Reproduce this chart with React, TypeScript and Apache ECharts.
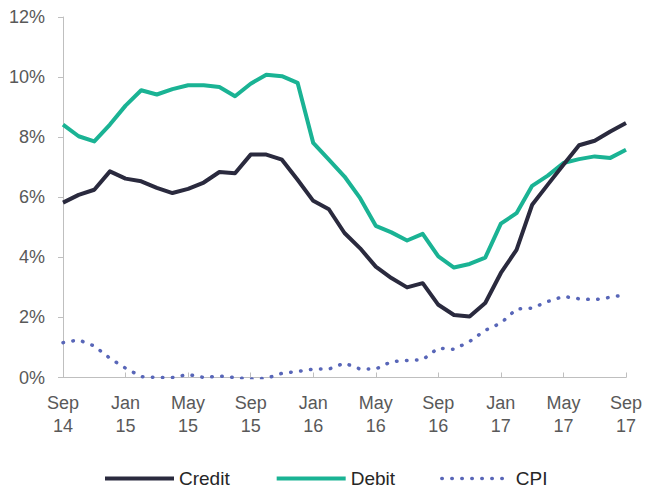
import React, { useEffect, useRef } from "react";
import * as echarts from "echarts";

const months = [
  "Sep\n14", "Oct 14", "Nov 14", "Dec 14", "Jan\n15", "Feb 15", "Mar 15", "Apr 15",
  "May\n15", "Jun 15", "Jul 15", "Aug 15", "Sep\n15", "Oct 15", "Nov 15", "Dec 15",
  "Jan\n16", "Feb 16", "Mar 16", "Apr 16", "May\n16", "Jun 16", "Jul 16", "Aug 16",
  "Sep\n16", "Oct 16", "Nov 16", "Dec 16", "Jan\n17", "Feb 17", "Mar 17", "Apr 17",
  "May\n17", "Jun 17", "Jul 17", "Aug 17", "Sep\n17",
];

const credit = [
  5.82, 6.08, 6.25, 6.86, 6.62, 6.53, 6.31, 6.14, 6.28, 6.49, 6.84, 6.8,
  7.42, 7.42, 7.25, 6.58, 5.88, 5.6, 4.81, 4.3, 3.69, 3.31, 3.0, 3.14,
  2.42, 2.08, 2.03, 2.48, 3.48, 4.25, 5.75, 6.42, 7.08, 7.73, 7.88, 8.19, 8.47,
];

const debit = [
  8.42, 8.03, 7.86, 8.42, 9.05, 9.56, 9.42, 9.6, 9.73, 9.73, 9.67, 9.36,
  9.78, 10.08, 10.03, 9.81, 7.81, 7.25, 6.69, 5.97, 5.05, 4.83, 4.56, 4.78,
  4.03, 3.66, 3.78, 3.99, 5.12, 5.47, 6.38, 6.72, 7.14, 7.27, 7.36, 7.31, 7.58,
];

const cpi = [
  1.16, 1.25, 1.05, 0.64, 0.31, 0.03, 0.0, 0.0, 0.1, 0.0, 0.05, 0.0,
  -0.05, -0.03, 0.14, 0.2, 0.28, 0.28, 0.48, 0.28, 0.28, 0.53, 0.57, 0.59,
  0.98, 0.94, 1.2, 1.57, 1.81, 2.28, 2.31, 2.53, 2.7, 2.62, 2.59, 2.67, 2.76,
];

const yTicks = [0, 2, 4, 6, 8, 10, 12];

const FONT = "'Liberation Sans', Arial, sans-serif";
const TEXT = "#595959";
const AXIS = "#bfbfbf";

export default function App() {
  const ref = useRef<HTMLDivElement>(null);
  useEffect(() => {
    if (!ref.current) return;
    const chart = echarts.init(ref.current, undefined, { renderer: "svg" });
    chart.setOption({
      animation: false,
      backgroundColor: "#ffffff",
      textStyle: { fontFamily: FONT },
      grid: { left: 63, right: 19, top: 17, bottom: 111.5, containLabel: false },
      legend: {
        left: 98,
        top: 464,
        itemWidth: 69,
        itemHeight: 14,
        itemGap: 45,
        itemStyle: { opacity: 0 },
        textStyle: { fontSize: 19, color: "#262626", fontFamily: FONT },
        data: [
          { name: "Credit", lineStyle: { width: 4 } },
          { name: "Debit", lineStyle: { width: 4 } },
          { name: "CPI", lineStyle: { width: 3.5 } },
        ],
      },
      xAxis: {
        type: "category",
        data: months,
        boundaryGap: false,
        axisLine: { show: true, lineStyle: { color: AXIS, width: 1 } },
        axisTick: { show: true, inside: true, length: 5, interval: 3, lineStyle: { color: AXIS } },
        axisLabel: {
          interval: 3,
          margin: 14,
          fontSize: 18,
          lineHeight: 23,
          color: TEXT,
          fontFamily: FONT,
          formatter: (v: string) => v,
        },
        splitLine: { show: false },
      },
      yAxis: {
        type: "value",
        min: yTicks[0],
        max: yTicks[yTicks.length - 1],
        interval: 2,
        axisLine: { show: true, lineStyle: { color: AXIS, width: 1 } },
        axisTick: { show: true, length: 5, lineStyle: { color: AXIS } },
        axisLabel: {
          margin: 18,
          fontSize: 18,
          color: TEXT,
          fontFamily: FONT,
          formatter: (v: number) => v + "%",
        },
        splitLine: { show: false },
      },
      series: [
        {
          name: "Credit",
          type: "line",
          data: credit,
          symbol: "none",
          color: "#2a2a3e",
          lineStyle: { width: 4, color: "#2a2a3e", join: "round" },
          z: 3,
        },
        {
          name: "Debit",
          type: "line",
          data: debit,
          symbol: "none",
          color: "#1ab394",
          lineStyle: { width: 4, color: "#1ab394", join: "round" },
          z: 2,
        },
        {
          name: "CPI",
          type: "line",
          data: cpi,
          symbol: "none",
          color: "#5866b8",
          lineStyle: { width: 3.5, color: "#5866b8", type: [0.5, 9.5], cap: "round" },
          z: 1,
        },
      ],
    });
    return () => chart.dispose();
  }, []);
  return <div ref={ref} style={{ width: 645, height: 489, position: "absolute", left: 0, top: 0 }} />;
}
